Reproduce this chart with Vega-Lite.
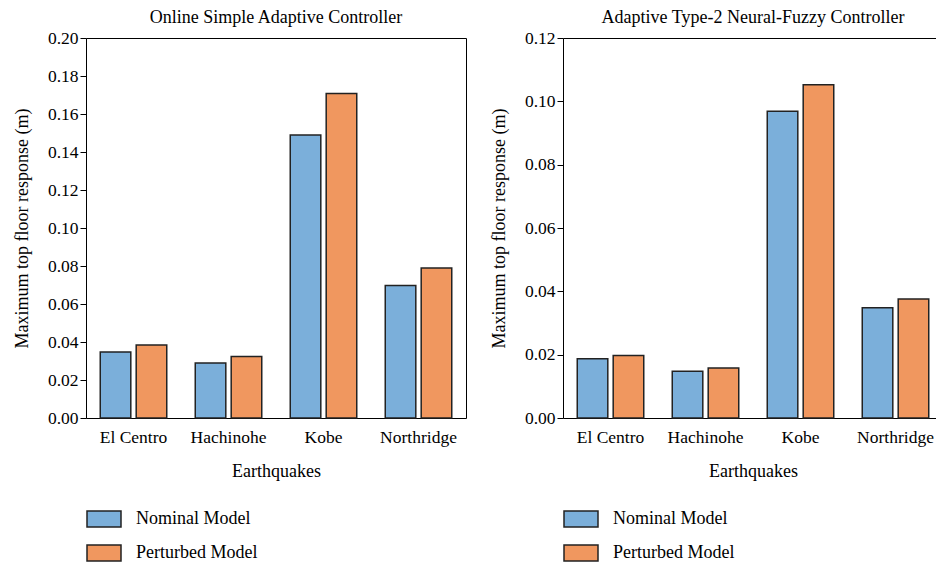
{
  "$schema": "https://vega.github.io/schema/vega-lite/v6.json",
  "padding": {"left": 12, "top": 8, "right": 0, "bottom": 0},
  "background": "white",
  "datasets": {
    "osac": [
      {"quake": "El Centro", "model": "Nominal Model", "value": 0.0347},
      {"quake": "El Centro", "model": "Perturbed Model", "value": 0.0384},
      {"quake": "Hachinohe", "model": "Nominal Model", "value": 0.029},
      {"quake": "Hachinohe", "model": "Perturbed Model", "value": 0.0324},
      {"quake": "Kobe", "model": "Nominal Model", "value": 0.149},
      {"quake": "Kobe", "model": "Perturbed Model", "value": 0.1708},
      {"quake": "Northridge", "model": "Nominal Model", "value": 0.0697},
      {"quake": "Northridge", "model": "Perturbed Model", "value": 0.079}
    ],
    "at2": [
      {"quake": "El Centro", "model": "Nominal Model", "value": 0.0187},
      {"quake": "El Centro", "model": "Perturbed Model", "value": 0.0197},
      {"quake": "Hachinohe", "model": "Nominal Model", "value": 0.0148},
      {"quake": "Hachinohe", "model": "Perturbed Model", "value": 0.0158},
      {"quake": "Kobe", "model": "Nominal Model", "value": 0.0969},
      {"quake": "Kobe", "model": "Perturbed Model", "value": 0.1052},
      {"quake": "Northridge", "model": "Nominal Model", "value": 0.0348},
      {"quake": "Northridge", "model": "Perturbed Model", "value": 0.0376}
    ]
  },
  "config": {
    "font": "Liberation Serif",
    "view": {"stroke": "black", "strokeWidth": 1},
    "title": {"font": "Liberation Serif", "fontSize": 18, "fontWeight": "normal", "color": "black", "offset": 2},
    "axis": {
      "labelFont": "Liberation Serif", "titleFont": "Liberation Serif",
      "labelFontSize": 17.5, "titleFontSize": 18, "titleFontWeight": "normal",
      "labelColor": "black", "titleColor": "black", "grid": false,
      "domain": false, "tickColor": "black", "tickSize": 6
    },
    "legend": {
      "labelFont": "Liberation Serif",
      "labelFontSize": 18, "labelColor": "black"
    },
    "concat": {"spacing": 22}
  },
  "resolve": {"legend": {"color": "independent"}},
  "hconcat": [
    {
      "data": {"name": "osac"},
      "width": 380, "height": 380,
      "title": "Online Simple Adaptive Controller",
      "mark": {"type": "bar", "stroke": "#222222", "strokeWidth": 1.5},
      "encoding": {
        "x": {"field": "quake", "type": "nominal", "sort": null,
          "scale": {"paddingInner": 0.3, "paddingOuter": 0.15},
          "axis": {"title": "Earthquakes", "labelAngle": 0, "ticks": false, "labelPadding": 10, "titlePadding": 17}},
        "xOffset": {"field": "model", "type": "nominal", "scale": {"paddingInner": 0.15}},
        "y": {"field": "value", "type": "quantitative",
          "scale": {"domain": [0, 0.2], "nice": false},
          "axis": {"title": "Maximum top floor response (m)", "format": ".2f",
            "values": [0, 0.02, 0.04, 0.06, 0.08, 0.1, 0.12, 0.14, 0.16, 0.18, 0.2], "titlePadding": 16}},
        "color": {"field": "model", "type": "nominal",
          "scale": {"domain": ["Nominal Model", "Perturbed Model"], "range": ["#7BAFDA", "#F0975F"]},
          "legend": {"title": null, "orient": "none", "legendX": 0, "legendY": 463,
            "symbolType": "M-1,-0.47H1V0.47H-1Z", "symbolSize": 1156, "symbolStrokeColor": "#222222",
            "symbolStrokeWidth": 1.5, "symbolOpacity": 1, "labelOffset": 14, "rowPadding": 5}}
      }
    },
    {
      "data": {"name": "at2"},
      "width": 380, "height": 380,
      "title": "Adaptive Type-2 Neural-Fuzzy Controller",
      "mark": {"type": "bar", "stroke": "#222222", "strokeWidth": 1.5},
      "encoding": {
        "x": {"field": "quake", "type": "nominal", "sort": null,
          "scale": {"paddingInner": 0.3, "paddingOuter": 0.15},
          "axis": {"title": "Earthquakes", "labelAngle": 0, "ticks": false, "labelPadding": 10, "titlePadding": 17}},
        "xOffset": {"field": "model", "type": "nominal", "scale": {"paddingInner": 0.15}},
        "y": {"field": "value", "type": "quantitative",
          "scale": {"domain": [0, 0.12], "nice": false},
          "axis": {"title": "Maximum top floor response (m)", "format": ".2f",
            "values": [0, 0.02, 0.04, 0.06, 0.08, 0.1, 0.12], "titlePadding": 16}},
        "color": {"field": "model", "type": "nominal",
          "scale": {"domain": ["Nominal Model", "Perturbed Model"], "range": ["#7BAFDA", "#F0975F"]},
          "legend": {"title": null, "orient": "none", "legendX": 0, "legendY": 463,
            "symbolType": "M-1,-0.47H1V0.47H-1Z", "symbolSize": 1156, "symbolStrokeColor": "#222222",
            "symbolStrokeWidth": 1.5, "symbolOpacity": 1, "labelOffset": 14, "rowPadding": 5}}
      }
    }
  ]
}
